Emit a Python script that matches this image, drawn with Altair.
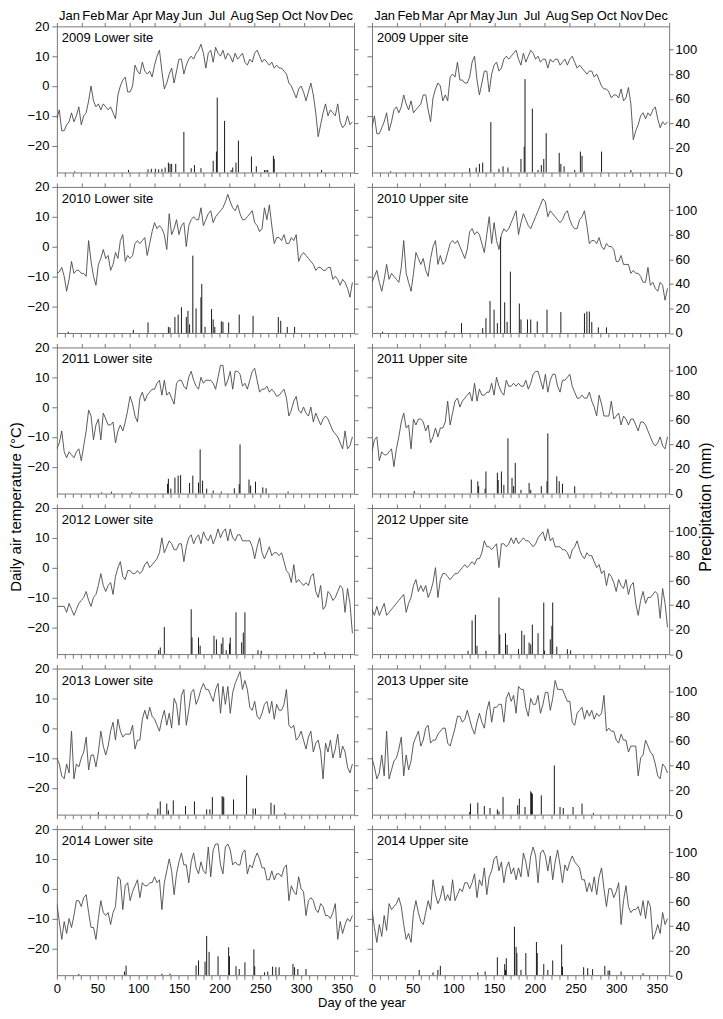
import altair as alt
import pandas as pd

FONT = "Liberation Sans"

# ---------------- data ----------------
DAYS = list(range(0, 364, 3))  # sampling days for temperature series
MONTHS = ["Jan", "Feb", "Mar", "Apr", "May", "Jun", "Jul", "Aug", "Sep", "Oct", "Nov", "Dec"]
MONTH_MID = [15.5, 45, 74.5, 105, 135.5, 166, 196.5, 227.5, 258, 288.5, 319, 349.5]
MONTH_EDGES = [0, 31, 59, 90, 120, 151, 181, 212, 243, 273, 304, 334, 365]
DAY_TICKS = list(range(0, 361, 10))
TEMP_TICKS = [-20, -10, 0, 10, 20]
PREC_TICKS = [0, 20, 40, 60, 80, 100]
YEARS = [2009, 2010, 2011, 2012, 2013, 2014]
SITES = ["Lower", "Upper"]

T_2009_LOWER = [-11, -8, -15, -15, -13, -12, -9, -12, -10, -7,
                -13, -10, -9, -5, 0, -5, -7, -6, -8, -6,
                -7, -8, -7, -9, -11, -3, 0, 2, 3, -2,
                -2, 0, 7, 5, 4, 8, 5, 4, 5, 3,
                7, 10, 12, 5, -1, 1, 4, 6, 1, 5,
                9, 9, 4, 7, 9, 10, 9, 11, 12, 14,
                11, 6, 11, 12, 8, 13, 11, 10, 12, 9,
                11, 10, 8, 11, 9, 10, 11, 8, 7, 9,
                8, 11, 12, 10, 8, 9, 8, 7, 8, 6,
                7, 6, 6, 5, 4, 1, 0, -2, -4, -1,
                0, -2, -5, -2, 1, -3, -9, -17, -13, -9,
                -6, -10, -8, -9, -10, -6, -12, -14, -13, -10,
                -13, -12]
T_2009_UPPER = [-14, -10, -16, -16, -14, -12, -9, -15, -12, -8,
                -7, -9, -7, -3, -6, -8, -5, -9, -8, -7,
                -6, -3, -3, -8, -12, -4, -1, 1, 0, -5,
                -3, -5, 3, 4, 3, 8, 2, 2, 1, 1,
                3, 8, 10, 2, -3, 1, 5, 5, -2, 4,
                7, 8, 5, 6, 9, 10, 9, 10, 11, 12,
                9, 7, 11, 8, 10, 12, 11, 9, 10, 8,
                9, 9, 6, 9, 8, 9, 9, 7, 8, 9,
                7, 9, 10, 8, 6, 7, 6, 5, 4, 5,
                5, 3, 4, 2, 0, -1, -1, -2, -4, -3,
                -3, -4, -1, -5, -4, -0.5, -6, -18, -15, -13,
                -10, -9, -11, -9, -10, -8, -7, -11, -14, -12,
                -13, -12]
T_2010_LOWER = [-9, -8.5, -7, -10, -15, -11, -5, -9, -8, -8,
                -9, -9, -10, 2, -5, -10, -13, -6, -4, -1,
                -4, -3, -8, -6, -2, -4, 2, 4, -5, -3,
                -4, -3, 1, 2, 1, 2, 3, -3, 1, 5,
                8, 6, 7, 6, 4, -1, 11, 4, 6, 9,
                4, 7, 8, 0, 7, 9, 10, 9, 9, 13,
                7, 9, 11, 12, 8, 10, 11, 12, 13, 15,
                17.5, 15, 13, 12, 14, 11, 9, 9, 10, 11,
                12, 8, 7, 5, 6, 13, 9, 14, 7, 1,
                3, 3, 2, 4, 1, 1, 3, 2, 4, -5,
                -3, -2, -3, -4, -5, -6, -8, -7, -7, -8,
                -8, -7, -7, -11, -10, -11, -13, -11, -12, -14,
                -17, -12]
T_2010_UPPER = [-12, -10, -8, -12, -15, -11, -6, -11, -9, -10,
                -11, -12, -7, 2, -9, -12, -15, -9, -2, -4,
                -6, -4, -8, -10, -4, 0, 2, -6, -3, -6,
                -5, -2, 1, 2, 1, 2, 0, -2, -4, -1,
                5, 6, 4, 5, 4, 1, -2, 4, 10, 1,
                8, 2, -1, 4, 6, 5, 6, 8, 10, 12,
                4, 8, 11, 9, 7, 6, 8, 10, 12, 14,
                16, 15, 10, 12, 11, 10, 9, 8, 9, 11,
                12, 9, 7, 6, 6, 9, 10, 12, 7, 1,
                2, 2, 1, 3, 0, -1, 1, 0, 0, -1,
                -5, -5, -3, -6, -6, -6, -9, -8, -9, -9,
                -10, -12, -12, -7, -13, -12, -14, -15, -12, -13,
                -18, -14]
T_2011_LOWER = [-14, -12, -8, -15, -17, -15, -16, -17, -15, -14,
                -18, -13, -8, -1, -3, -11, -6, -4, -11, -2,
                -4, -6, -6, -5, -12, -8, -6, -8, -5, -1,
                3.6, 1, -3, -5, 3, 5, 2, 4, 5, 6,
                6, 8, 9, 4, 9, 4, 5, 3, 1, 8,
                9, 9, 7, 6, 10, 12, 9, 7, 6, 10,
                8, 9, 9, 9, 8, 6, 10, 14, 14, 7,
                9, 12, 6, 12, 12, 11, 7, 8, 6, 9,
                12, 13, 9, 5, 6, 6, 7, 5, 6, 5,
                3.6, 4, 5, 6, 3, -3, -1, 2, 3.6, -1,
                -2, 0, -2, -3, 0, -5, -2, -4, -6, -4,
                -3, -4, -6, -8, -9, -10, -12, -14, -8, -14,
                -13, -10]
T_2011_UPPER = [-15, -11, -10, -18, -15, -16, -16, -15, -14, -20,
                -14, -10, -5, -2, -7, -6, -14, -4, -6, -4,
                -4, -5, -8, -6, -12, -10, -7, -10, -7, -7,
                -5, 2, -6, -2, 2, 3, 0, 2, 3, 4,
                5, 2, 8, 2, 6, 4, 4, 5, 5, 8,
                4, 10, 7, 5, 4, 9, 7, 7, 8, 7,
                8, 7, 7, 9, 6, 8, 11, 12, 12, 9,
                6, 11, 5, 9, 11, 11, 7, 5, 9, 9,
                10, 11, 7, 5, 3, 3, 4, 3, 3, 5,
                2, 0, -3, 4, 1, -3, -3, -3, 2, -4,
                -3, -2, -6, -3, -4, -6, -4, -4, -6, -8,
                -5, -5, -6, -8, -10, -12, -13, -12, -10, -13,
                -14, -10]
T_2012_LOWER = [-13, -13, -13, -13, -15, -12, -14, -16, -14, -12,
                -11, -10, -8, -11, -13, -10, -9, -6, -2, -6,
                -8, -6, -5, -9, -3, 0, 2, -3, -4, -1,
                -1, -2, -2, -1, -2, -1, 1, 2, 0, 1,
                2, 3, 5, 10, 5, 7, 9, 8, 6, 6,
                8, 8, 2, 7, 10, 11, 8, 10, 11, 8,
                12, 10, 9, 11, 8, 10, 13, 10, 12, 13,
                9, 13, 10, 9, 11, 11, 9, 9, 9, 9,
                7, 3, 7, 10, 5, 3, 5, 7, 4, 5,
                5, 4, 5, 2, -1, -2, -5, 1, -5, -4,
                -5, -6, -5, -6, -3, -2, -8, -10, -6, -14,
                -13, -8, -9, -11, -10, -8, -6, -7, -15, -7,
                -12, -22]
T_2012_UPPER = [-14, -16, -13, -16, -14, -12, -16, -15, -14, -13,
                -12, -11, -10, -9, -15, -12, -10, -6, -4, -8,
                -6, -8, -6, -10, -8, -5, 0, -10, -4, -2,
                -2, -3, -4, -3, -2, -2, -1, 0, 1, 0,
                1, 2, 1, 3, 3, 5, 9, 7, 7, 6,
                7, 8, 0, 8, 8, 7, 8, 10, 8, 10,
                8, 9, 10, 9, 9, 8, 7, 8, 10, 11,
                12, 9, 13, 9, 10, 7, 7, 7, 6, 6,
                5, 3, 6, 7, 9, 6, 4, 3, 5, 4,
                4, 2, 0, 1, -2, -1, -6, -2, -3, -5,
                -8, -4, -6, -7, -4, -9, -6, -5, -12, -16,
                -11, -8, -12, -10, -10, -9, -8, -9, -17, -7,
                -12, -20]
T_2013_LOWER = [-10, -12, -16, -17, -12, -15, -1, -17, -12, -13,
                -10, -8, -3, -14, -9, -9, -13, -8, -1, -6,
                -9, -6, -1, 2, -4, 3, -1, -3, -2, -2,
                -2, 1, -7, -4, -4, 3, 6, 3, 7, 4,
                3, 1, -1, 3, 6, 1, 5, 0, 10, 8,
                1, 11, 13, 1, 6, 12, 13, 8, 10, 13,
                15, 13, 13, 11, 9, 13, 15, 5, 14, 8,
                14, 5, 12, 15, 17, 19, 13, 16, 13, 7,
                6, 9, 4, 3, 5, 8, 9, 5, 9, 3,
                8, 6, 6, 8, 13, 1, 0, 1, -4, -3,
                -1, -4, -7, -3, -1, -8, -5, -4, -8, -17,
                -5, -8, -4, -10, -7, -2, -10, -6, -8, -13,
                -15, -12]
T_2013_UPPER = [-10, -13, -17, -15, -9, -16, -1, -17, -14, -11,
                -10, -7, -3, -16, -9, -14, -11, -5, -3, -1,
                -6, -4, 0, 1, -5, -4, -4, -2, -1, 0,
                0, -5, -6, -3, 0, 4, 4, 2, 3, 6,
                3, 0, -2, 2, 5, 2, 0, 6, 9, 2,
                7, 7, 8, 8, 2, 10, 12, 9, 11, 5,
                14, 13, 13, 7, 4, 10, 8, 8, 11, 5,
                8, 12, 12, 6, 10, 16, 13, 13, 13, 11,
                9, 9, 2, 1, 5, 6, 7, 3, 6, 4,
                6, 3, 5, 4, 5, 11, -1, 0, -1, -1,
                -4, -5, -2, -4, -4, -8, -6, -6, -6, -16,
                -10, -9, -4, -6, -8, -9, -12, -16, -17, -12,
                -13, -15]
T_2014_LOWER = [-5, -11, -17, -11, -15, -10, -13, -9, -4, -4,
                -6, -3, -2, -8, -13, -13, -17, -10, -4, -8,
                -9, -8, -12, -8, -6, 4, 3, -7, 1, 2,
                -4, -1, 1, 3, -3, 2, 1, 1, 2, 2,
                4, 2, 3, -7, 2, 6, 10, 6, -2, 5,
                9, 12, 8, 8, 2, 9, 12, 7, 5, 9,
                6, 5, 14, 4, 13, 15, 15, 8, 5, 14,
                15, 13, 8, 9, 8, 8, 12, 13, 5, 8,
                7, 10, 12, 10, 7, 7, 3, 3, 6, 3,
                5, 5, 4, 7, 8, -4, 1, -1, -2, 4,
                0, -1, -9, -4, -3, -4, -7, -8, -5, -6,
                -9, -9, -10, -8, -5, -17, -11, -15, -12, -10,
                -11, -9]
T_2014_UPPER = [-7, -13, -18, -12, -16, -9, -14, -5, -7, -6,
                -5, -3, -6, -12, -17, -15, -18, -8, -4, -8,
                -11, -12, -8, -4, -7, 3, -2, -5, -3, 1,
                -4, -2, -4, 3, -4, -2, 0, -1, 2, 2,
                0, 2, 5, -3, 3, 1, 7, -2, 4, 6,
                10, 11, 6, 9, 2, 7, 9, 5, 7, 3,
                7, 4, 12, 9, 4, 11, 14, 11, 2, 12,
                13, 11, 6, 11, 3, 9, 13, 8, 2, 8,
                6, 9, 11, 9, 8, 7, 3, 3, -1, 2,
                -1, 4, -2, 4, 7, 0, -6, 0, 0, -3,
                -1, 2, -12, -4, 1, -6, -8, -7, -7, -6,
                -9, -4, -10, -4, -6, -17, -15, -12, -15, -8,
                -12, -10]

# precipitation: (day of year, mm)
P_2009_LOWER = [(22, 1), (88, 2), (112, 2.5), (116, 3), (121, 3), (125, 2.5), (129, 3), (133, 4),
                (137, 8), (139, 7), (141, 7), (146, 7), (156, 33), (165, 3.5), (169, 6), (177, 3.5),
                (192, 9.5), (196, 17), (197, 61), (206, 42), (214, 2), (216, 4), (220, 8), (223, 26),
                (239, 13), (245, 5), (255, 2), (257, 2), (259, 2), (266, 13.5), (267, 11), (325, 2)]
P_2009_UPPER = [(23, 1), (120, 3.5), (128, 4), (132, 7), (136, 8), (146, 41), (156, 3), (161, 5),
                (167, 4), (183, 11), (187, 21), (188, 76), (197, 52), (204, 2), (208, 6), (211, 11),
                (214, 32), (230, 16), (232, 7), (236, 5), (249, 2), (256, 17), (258, 13.5), (282, 17),
                (318, 2)]
P_2010_LOWER = [(14, 1), (94, 2.5), (112, 8.6), (137, 5), (139, 4.5), (145, 13), (149, 15), (153, 21),
                (159, 13), (161, 18), (163, 7), (167, 63), (171, 20), (177, 29), (178, 40), (182, 5),
                (190, 19.5), (192, 11), (194, 5), (202, 9.5), (204, 9), (211, 8.6), (224, 15), (241, 14),
                (272, 13), (275, 10), (283, 5), (292, 5)]
P_2010_UPPER = [(13, 1), (91, 1.5), (110, 8), (136, 4), (140, 12), (145, 26), (150, 19), (154, 8),
                (158, 78), (163, 25), (166, 9), (170, 50), (181, 24), (183, 11), (191, 11), (195, 11),
                (203, 9.5), (215, 19), (232, 17), (261, 16), (264, 17.5), (267, 17.5), (270, 9),
                (278, 4.6), (288, 4.6)]
P_2011_LOWER = [(55, 1), (67, 1.5), (92, 1), (136, 8), (137, 12), (140, 4), (145, 13), (149, 14.6),
                (152, 15), (163, 8.6), (167, 14.6), (174, 9), (176, 36), (179, 10.5), (184, 4), (192, 2.5),
                (202, 1.6), (218, 4.3), (224, 7.6), (225, 40), (236, 11.4), (238, 6.5), (244, 9.7),
                (253, 5), (257, 4.3), (284, 1.6)]
P_2011_UPPER = [(52, 2), (122, 11.4), (130, 10), (131, 6), (139, 4), (140, 18), (154, 17), (155, 11),
                (159, 18), (162, 7), (167, 45), (172, 12.7), (174, 6), (176, 25), (183, 3), (193, 8.6),
                (195, 3), (208, 6), (215, 10), (216, 49), (227, 14), (230, 10), (234, 8), (249, 6),
                (281, 1), (294, 1)]
P_2012_LOWER = [(125, 3.2), (127, 5.4), (132, 22), (165, 36.5), (166, 13.5), (174, 13.5), (176, 6.8),
                (193, 15), (196, 12), (202, 8.6), (204, 13.5), (208, 3.2), (212, 8.6), (213, 13.5),
                (220, 34), (227, 9.5), (229, 17.5), (231, 34), (247, 3.2), (251, 2.7), (316, 1.4),
                (329, 1.4)]
P_2012_UPPER = [(118, 2.7), (123, 27.4), (127, 32), (129, 6.7), (140, 2.7), (156, 46), (157, 16),
                (164, 17), (166, 7.5), (180, 4), (184, 19), (187, 15.6), (193, 9.4), (195, 8), (197, 24),
                (204, 17), (211, 42), (212, 2.7), (219, 12), (221, 23), (222, 42), (227, 6), (240, 4),
                (244, 3)]
P_2013_LOWER = [(51, 2), (112, 1.3), (124, 5), (127, 10.8), (135, 9), (137, 3.5), (143, 11.6), (158, 7),
                (169, 10.8), (184, 4.3), (188, 4.3), (191, 14.3), (203, 15), (204, 14.6), (205, 14),
                (217, 12.4), (233, 32), (241, 5), (244, 5), (263, 9.7), (267, 8), (280, 1.4)]
P_2013_UPPER = [(41, 1), (120, 2), (121, 9), (130, 9.7), (138, 7), (145, 5.4), (154, 4.3), (156, 2.7),
                (161, 14.3), (179, 7.6), (181, 13), (188, 6.2), (195, 19), (196, 18), (197, 17),
                (208, 15.7), (224, 40), (231, 6.2), (235, 5.4), (247, 6.2), (258, 9), (272, 1.4)]
P_2014_LOWER = [(27, 1), (83, 3), (85, 7.8), (129, 1.2), (139, 1.2), (171, 8), (174, 12), (182, 11),
                (184, 32), (187, 19), (198, 15.4), (211, 22.7), (212, 15.4), (220, 7.3), (224, 5),
                (231, 10.5), (242, 21), (243, 7.3), (255, 2.4), (259, 3), (265, 7), (269, 6.5),
                (273, 6.5), (290, 9.2), (292, 6.5), (296, 5), (306, 5)]
P_2014_UPPER = [(58, 4.3), (75, 2.2), (81, 4.3), (84, 7.6), (130, 2.2), (139, 3), (154, 14.6), (163, 9),
                (164, 4.3), (165, 13.8), (175, 39.5), (177, 23), (178, 18), (183, 4.3), (189, 18),
                (202, 27), (203, 18), (211, 9), (216, 4.3), (222, 12), (233, 25), (234, 7), (260, 6.5),
                (265, 5.7), (271, 4.9), (286, 7.6), (290, 3.8), (292, 3.8), (306, 3), (333, 1.6)]

TEMP = {
    (2009, "Lower"): T_2009_LOWER, (2009, "Upper"): T_2009_UPPER,
    (2010, "Lower"): T_2010_LOWER, (2010, "Upper"): T_2010_UPPER,
    (2011, "Lower"): T_2011_LOWER, (2011, "Upper"): T_2011_UPPER,
    (2012, "Lower"): T_2012_LOWER, (2012, "Upper"): T_2012_UPPER,
    (2013, "Lower"): T_2013_LOWER, (2013, "Upper"): T_2013_UPPER,
    (2014, "Lower"): T_2014_LOWER, (2014, "Upper"): T_2014_UPPER,
}
PREC = {
    (2009, "Lower"): P_2009_LOWER, (2009, "Upper"): P_2009_UPPER,
    (2010, "Lower"): P_2010_LOWER, (2010, "Upper"): P_2010_UPPER,
    (2011, "Lower"): P_2011_LOWER, (2011, "Upper"): P_2011_UPPER,
    (2012, "Lower"): P_2012_LOWER, (2012, "Upper"): P_2012_UPPER,
    (2013, "Lower"): P_2013_LOWER, (2013, "Upper"): P_2013_UPPER,
    (2014, "Lower"): P_2014_LOWER, (2014, "Upper"): P_2014_UPPER,
}

# ---------------- chart ----------------
W, H = 298, 146.5
LINE_C = "#4a4a4a"
BAR_C = "#1a1a1a"
FRAME_C = "#777777"

XS = alt.Scale(domain=[0, 365], nice=False, zero=False)
TS = alt.Scale(domain=[-29, 20], nice=False, zero=False)
PS = alt.Scale(domain=[0, 119], nice=False, zero=False)


def text_layer(txt, **kw):
    return alt.Chart(pd.DataFrame({"t": [txt]})).mark_text(
        font=FONT, color="#000", baseline="middle", **kw
    ).encode(text="t:N")


def panel(row, col, year, site):
    left = col == 0
    last = row == len(YEARS) - 1
    tdf = pd.DataFrame({"day": DAYS, "temp": TEMP[(year, site)]})
    pdf = pd.DataFrame(PREC[(year, site)], columns=["day", "mm"])

    line = alt.Chart(tdf).mark_line(color=LINE_C, strokeWidth=0.9, clip=True).encode(
        x=alt.X("day:Q", scale=XS,
                axis=alt.Axis(orient="top", values=MONTH_EDGES, labels=False, title=None, tickSize=4)),
        y=alt.Y("temp:Q", scale=TS,
                axis=alt.Axis(orient="left", values=TEMP_TICKS, labels=left, title=None,
                              tickSize=5, labelPadding=3)),
    )
    bars = alt.Chart(pdf).mark_rule(color=BAR_C, strokeWidth=1, clip=True).encode(
        x=alt.X("day:Q", scale=XS,
                axis=alt.Axis(orient="bottom", values=DAY_TICKS, labels=last, title=None, tickSize=4,
                              labelPadding=3,
                              labelExpr="datum.value % 50 === 0 ? datum.label : ''")),
        y=alt.Y("mm:Q", scale=PS,
                axis=alt.Axis(orient="right", values=PREC_TICKS, labels=not left, title=None,
                              tickSize=4, labelPadding=2)),
        y2=alt.datum(0),
    )
    layers = [line, bars,
              text_layer(f"{year} {site} site", align="left", fontSize=13, x=5, y=12)]
    if row == 0:
        mdf = pd.DataFrame({"m": MONTHS, "mid": MONTH_MID})
        layers.append(
            alt.Chart(mdf).mark_text(font=FONT, fontSize=13, color="#000", baseline="middle", y=-10)
            .encode(x=alt.X("mid:Q", scale=XS, axis=None), text="m:N")
        )
    if row == 2 and col == 0:
        layers.append(text_layer("Daily air temperature (°C)", angle=270, align="center",
                                 fontSize=15, x=-41, y=160))
    if row == 2 and col == 1:
        layers.append(text_layer("Precipitation (mm)", angle=270, align="center",
                                 fontSize=16, x=W + 37, y=160))
    if last and col == 0:
        layers.append(text_layer("Day of the year", align="center", fontSize=13,
                                 x=W + 8, y=H + 28))
    return (alt.layer(*layers)
            .resolve_scale(y="independent")
            .resolve_axis(x="independent", y="independent")
            .properties(width=W, height=H))


panels = [panel(r, c, y, s) for r, y in enumerate(YEARS) for c, s in enumerate(SITES)]

chart = (
    alt.concat(*panels, columns=2, spacing={"row": 14, "column": 18}, bounds="flush")
    .properties(padding={"left": 0, "top": 0, "right": 0, "bottom": 0})
    .configure_view(stroke=FRAME_C, strokeWidth=1)
    .configure_axis(domain=False, grid=False, tickColor=FRAME_C, tickWidth=1,
                    labelFont=FONT, labelFontSize=13, labelColor="#000",
                    labelFlush=False, labelOverlap=False)
)

chart.save("out.html", embed_options={"renderer": "svg", "actions": False})
